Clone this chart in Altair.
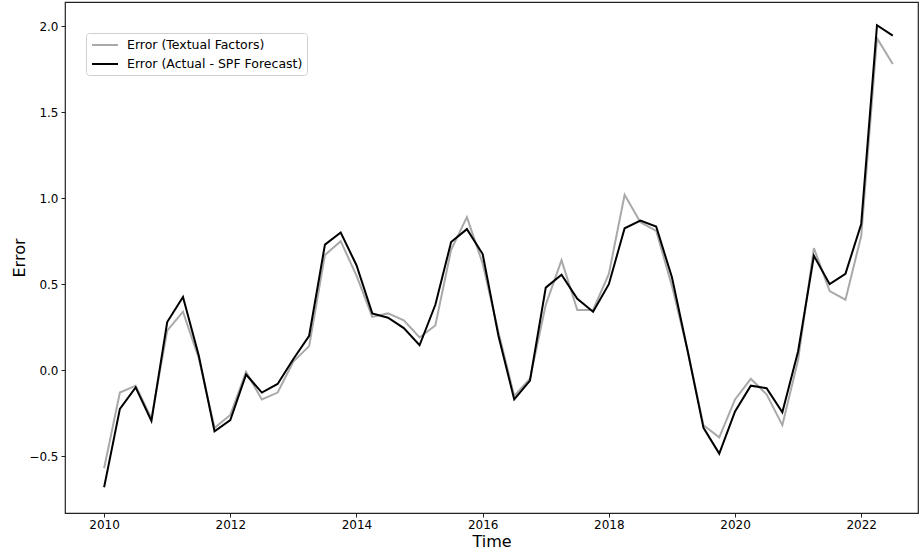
import altair as alt
import pandas as pd

# quarterly time index 2010Q1 .. 2022Q3
quarters = [2010 + k / 4 for k in range(51)]

error_textual = [
    -0.57, -0.13, -0.09, -0.28, 0.23, 0.34, 0.07, -0.335, -0.26, -0.01,
    -0.17, -0.13, 0.05, 0.14, 0.67, 0.75, 0.55, 0.31, 0.33, 0.29,
    0.19, 0.26, 0.70, 0.89, 0.62, 0.22, -0.15, -0.05, 0.38, 0.64,
    0.35, 0.35, 0.56, 1.02, 0.86, 0.81, 0.49, 0.11, -0.32, -0.39,
    -0.17, -0.05, -0.14, -0.32, 0.06, 0.71, 0.46, 0.41, 0.78, 1.93,
    1.78,
]
error_actual = [
    -0.68, -0.225, -0.10, -0.295, 0.28, 0.425, 0.085, -0.355, -0.29, -0.025,
    -0.13, -0.08, 0.065, 0.20, 0.73, 0.80, 0.61, 0.33, 0.305, 0.245,
    0.145, 0.38, 0.745, 0.82, 0.675, 0.20, -0.17, -0.06, 0.48, 0.555,
    0.415, 0.34, 0.50, 0.825, 0.87, 0.835, 0.54, 0.11, -0.335, -0.485,
    -0.24, -0.09, -0.105, -0.245, 0.11, 0.665, 0.50, 0.56, 0.85, 2.005,
    1.945,
]

series_names = ["Error (Textual Factors)", "Error (Actual - SPF Forecast)"]
series_colors = ["#a9a9a9", "#000000"]

df = pd.concat([
    pd.DataFrame({"Time": quarters, "Error": error_textual, "Series": series_names[0]}),
    pd.DataFrame({"Time": quarters, "Error": error_actual, "Series": series_names[1]}),
])

FONT = "DejaVu Sans"

x_enc = alt.X(
    "Time:Q",
    scale=alt.Scale(domain=[2009.38, 2022.9], nice=False, zero=False),
    axis=alt.Axis(values=list(range(2010, 2023, 2)), format="d", title="Time",
                  grid=False, domain=False, tickSize=4, tickColor="#222",
                  labelFont=FONT, labelFontSize=12, labelColor="#000", labelPadding=2,
                  titleFont=FONT, titleFontSize=16, titleFontWeight="normal",
                  titleColor="#000", titleY=33, titleBaseline="alphabetic"),
)
y_enc = alt.Y(
    "Error:Q",
    scale=alt.Scale(domain=[-0.83, 2.14], nice=False, zero=False),
    axis=alt.Axis(values=[-0.5, 0.0, 0.5, 1.0, 1.5, 2.0], format=".1f", title="Error",
                  grid=False, domain=False, tickSize=4, tickColor="#222",
                  labelFont=FONT, labelFontSize=12, labelColor="#000", labelPadding=3,
                  titleFont=FONT, titleFontSize=16, titleFontWeight="normal",
                  titleColor="#000", titleX=-41, titleBaseline="alphabetic"),
)
color_enc = alt.Color(
    "Series:N",
    scale=alt.Scale(domain=series_names, range=series_colors),
    legend=alt.Legend(
        title=None, orient="none", legendX=21, legendY=31,
        symbolType="M-1.857,0H1.857", symbolSize=196, symbolStrokeWidth=2,
        symbolOffset=7,
        labelFontSize=12.5, labelFont=FONT, labelColor="#000", labelLimit=0,
        fillColor="white", strokeColor="#d0d0d0", padding=4, cornerRadius=3,
        rowPadding=4, labelOffset=14,
    ),
)

base = alt.Chart(df)
gray = base.transform_filter(alt.datum.Series == series_names[0]).mark_line(strokeWidth=2).encode(
    x=x_enc, y=y_enc, color=color_enc)
black = base.transform_filter(alt.datum.Series == series_names[1]).mark_line(strokeWidth=2).encode(
    x=x_enc, y=y_enc, color=color_enc)

chart = alt.layer(gray, black).properties(
    width=853, height=511,
    autosize=alt.AutoSizeParams(type="none"),
    padding={"left": 65, "top": 2, "right": 2, "bottom": 37},
    background="white",
).configure_view(
    stroke="#222", strokeWidth=1.2,
).configure_axis(
    grid=False, domain=False,
)

chart.save("out.html", embed_options={"renderer": "svg", "actions": False})
